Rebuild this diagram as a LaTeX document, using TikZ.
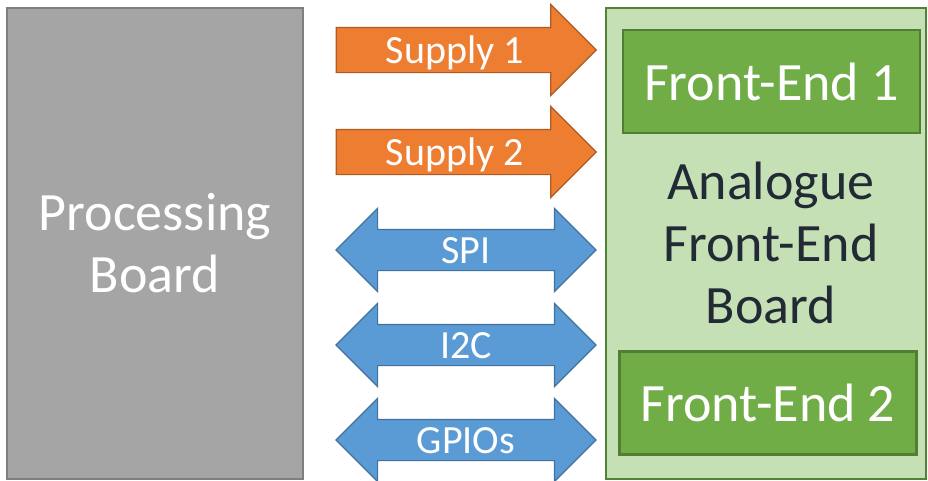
\documentclass[tikz,border=0pt]{standalone}
\usepackage{fontspec}
\setmainfont{Carlito}
\usetikzlibrary{positioning, shapes.arrows}

\definecolor{procfill}{HTML}{A5A5A5}
\definecolor{procline}{HTML}{7F7F7F}
\definecolor{afefill}{HTML}{C5E0B4}
\definecolor{afeline}{HTML}{548235}
\definecolor{fefill}{HTML}{70AD47}
\definecolor{feline}{HTML}{507E32}
\definecolor{supfill}{HTML}{ED7D31}
\definecolor{supline}{HTML}{AE5A21}
\definecolor{busfill}{HTML}{5B9BD5}
\definecolor{busline}{HTML}{41719C}
\definecolor{darktext}{HTML}{222A35}

\tikzset{
  board/.style={draw, line width=2pt, inner sep=0pt, align=center,
    font=\fontsize{54}{62}\selectfont},
  frontend/.style={draw=feline, fill=fefill, line width=2.5pt, text=white,
    minimum width=297pt, minimum height=103pt, inner sep=0pt,
    font=\fontsize{54}{62}\selectfont},
  supply/.style={single arrow, draw=supline, fill=supfill, line width=1.2pt,
    text=white, font=\fontsize{40}{44}\selectfont,
    text height=30pt, text depth=4pt, inner ysep=5pt, inner xsep=0pt,
    single arrow head extend=23pt, single arrow tip angle=90,
    minimum height=260pt},
  bus/.style={double arrow, draw=busline, fill=busfill, line width=1.2pt,
    text=white, font=\fontsize{40}{44}\selectfont,
    text height=30pt, text depth=4pt, inner ysep=3pt, inner xsep=0pt,
    double arrow head extend=21pt, double arrow tip angle=90,
    minimum height=260pt}
}

\begin{document}
\begin{tikzpicture}[x=1pt, y=-1pt]
    \useasboundingbox (0,0) rectangle (928,480);

    % boards
    \node[board, draw=procline, fill=procfill, text=white,
      minimum width=296pt, minimum height=471pt] (proc) at (155,243.5) {Processing\\Board};
    \node[board, draw=afeline, fill=afefill,
      minimum width=320pt, minimum height=471pt] (afe) at (766,243.5) {};
    \node[align=center, text=darktext, font=\fontsize{54}{62}\selectfont]
      (afelabel) at (771,243) {Analogue\\Front-End\\Board};

    \node[frontend] (fe1) at (771.5,81.5) {Front-End 1};
    \node[frontend] (fe2) at (768,403) {Front-End 2};

    % supplies and buses
    \node[supply] (sup1) at (455,50) {Supply 1};
    \node[supply] (sup2) at (455,152) {Supply 2};
    \node[bus] (spi) at (466,250) {SPI};
    \node[bus] (i2c) at (466,345) {I2C};
    \node[bus] (gpio) at (466,440) {GPIOs};
\end{tikzpicture}
\end{document}
